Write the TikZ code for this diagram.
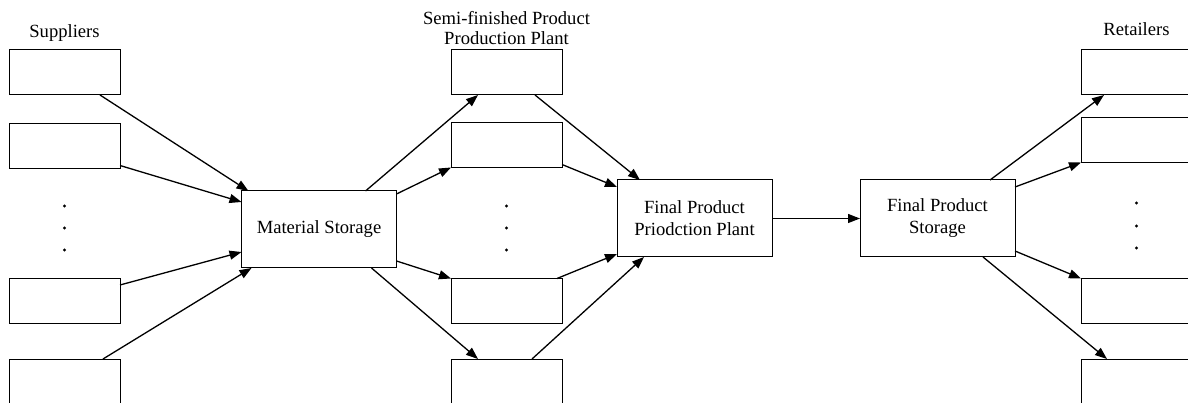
\documentclass[tikz,border=0pt]{standalone}
\usepackage{fontspec}
\setmainfont{Liberation Serif}
\usetikzlibrary{arrows.meta}
\begin{document}
\begin{tikzpicture}[x=1pt,y=-1pt,
  smallbox/.style={draw, line width=1pt, minimum width=111pt, minimum height=45pt, inner sep=0pt, outer sep=0pt},
  bigbox/.style={draw, line width=1pt, minimum width=155pt, minimum height=77pt, inner sep=0pt, outer sep=0pt, align=center, font=\fontsize{18.6}{22}\selectfont},
  lbl/.style={inner sep=0pt, align=center, font=\fontsize{18.6}{20.5}\selectfont},
  conn/.style={line width=1.3pt, -{Triangle[length=12pt,width=9pt]}},
  dotmark/.style={circle, fill, inner sep=0pt, minimum size=3.2pt}]
\useasboundingbox (0,0) rectangle (1188,403);
\clip (0,0) rectangle (1188,403);
% suppliers
\node[smallbox] (s1) at (64.5,72.5) {};
\node[smallbox] (s2) at (64.5,146) {};
\node[smallbox] (s4) at (64.5,301) {};
\node[smallbox] (s5) at (64.5,381.5) {};
% semi-finished
\node[smallbox] (sf1) at (506.5,72.5) {};
\node[smallbox] (sf2) at (506.5,145) {};
\node[smallbox] (sf3) at (506.5,301) {};
\node[smallbox] (sf4) at (506.5,381.5) {};
% retailers
\node[smallbox] (r1) at (1136.5,72.5) {};
\node[smallbox] (r2) at (1136.5,140) {};
\node[smallbox] (r3) at (1136.5,301) {};
\node[smallbox] (r4) at (1136.5,381.5) {};
% big boxes
\node[bigbox] (ms) at (319,229.5) {Material Storage};
\node[bigbox] (fp) at (694.5,218.5) {Final Product\\Priodction Plant};
\node[bigbox] (fs) at (937.5,218.5) {Final Product\\Storage};
% labels
\node[lbl, anchor=base] (lsup) at (64.5,38) {Suppliers};
\node[lbl, anchor=north] (lsemi) at (506.5,11) {Semi-finished Product\\Production Plant};
\node[lbl, anchor=base] (lret) at (1136.5,35.5) {Retailers};
% dots
\foreach \y [count=\i] in {206,228,250} {
  \node[dotmark] (da\i) at (64.5,\y) {};
  \node[dotmark] (db\i) at (506.5,\y) {};
}
\foreach \y [count=\i] in {203,226,248} {
  \node[dotmark] (dc\i) at (1136.5,\y) {};
}
% suppliers -> material storage
\draw[conn] ([xshift=-20pt]s1.south east) -- ([xshift=7pt]ms.north west);
\draw[conn] ([yshift=3pt]s2.south east) -- ([yshift=-11pt]ms.north west);
\draw[conn] ([yshift=-6.5pt]s4.north east) -- ([yshift=16pt]ms.south west);
\draw[conn] ([xshift=94pt]s5.north west) -- ([xshift=10pt]ms.south west);
% material storage -> semi
\draw[conn] ([xshift=-31pt]ms.north east) -- ([xshift=27pt]sf1.south west);
\draw[conn] ([yshift=-3pt]ms.north east) -- (sf2.south west);
\draw[conn] ([yshift=7pt]ms.south east) -- (sf3.north west);
\draw[conn] ([xshift=-25pt]ms.south east) -- ([xshift=27pt]sf4.north west);
% semi -> final production
\draw[conn] ([xshift=-27pt]sf1.south east) -- ([xshift=23pt]fp.north west);
\draw[conn] ([yshift=3pt]sf2.south east) -- ([yshift=-7pt]fp.north west);
\draw[conn] ([xshift=-5pt]sf3.north east) -- ([yshift=3pt]fp.south west);
\draw[conn] ([xshift=-30pt]sf4.north east) -- ([xshift=27pt]fp.south west);
% production -> storage
\draw[conn] (fp.east) -- (fs.west);
% storage -> retailers
\draw[conn] ([xshift=-25pt]fs.north east) -- ([xshift=23pt]r1.south west);
\draw[conn] ([yshift=-7pt]fs.north east) -- (r2.south west);
\draw[conn] ([yshift=6pt]fs.south east) -- (r3.north west);
\draw[conn] ([xshift=-32pt]fs.south east) -- ([xshift=26pt]r4.north west);
\end{tikzpicture}
\end{document}
